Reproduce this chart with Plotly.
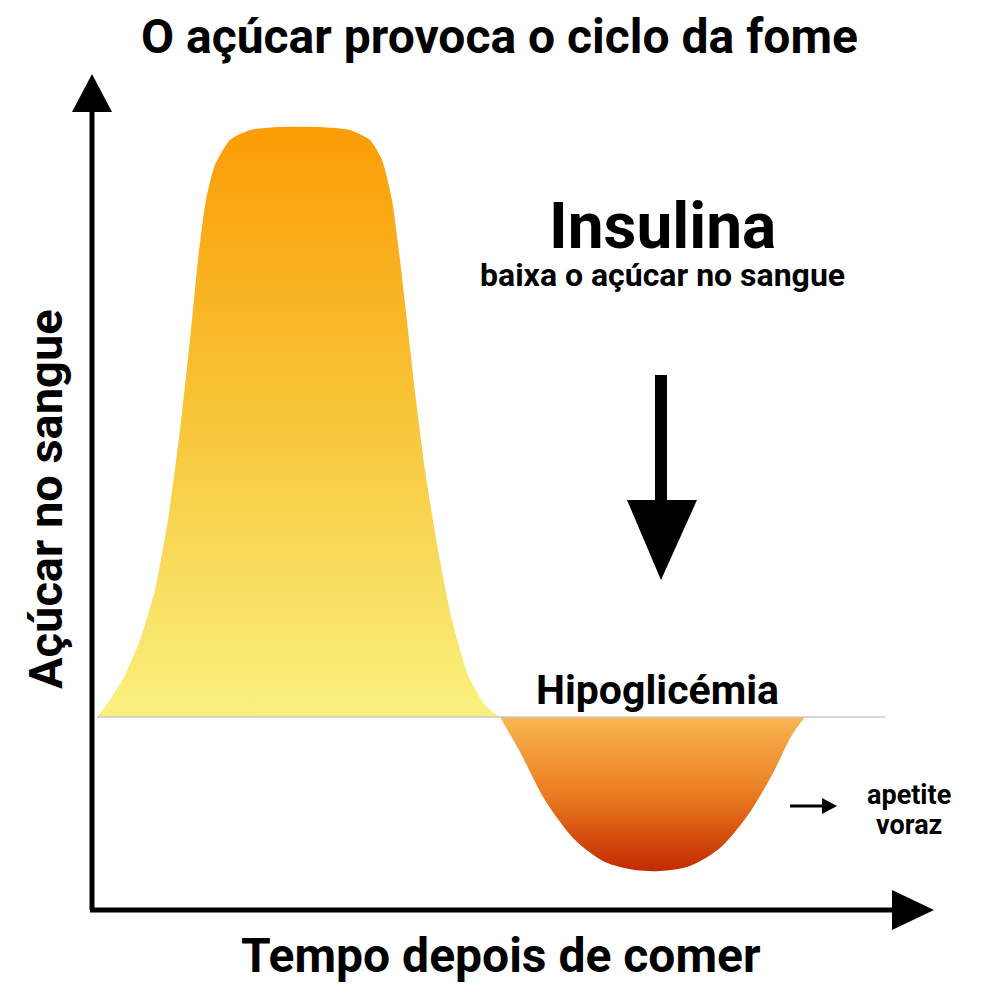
import plotly.graph_objects as go

# bump above baseline (x, y in image-pixel-like units; y measured upward: 1000 - px)
bump_x = [97, 110, 125, 140, 155, 168, 180, 190, 198, 206, 215, 230, 250, 280, 320, 350, 370, 382, 392, 400, 408, 416, 425, 438, 452, 468, 485, 500]
bump_px = [717, 700, 675, 640, 590, 520, 430, 340, 260, 200, 165, 140, 130, 127, 127, 130, 140, 160, 200, 260, 330, 400, 470, 550, 620, 675, 705, 717]
dip_x = [500, 520, 545, 575, 605, 635, 660, 690, 720, 748, 772, 792, 805]
dip_px = [717, 752, 800, 840, 862, 870, 871, 866, 848, 815, 775, 735, 717]
baseline_px = 717

bump_y = [1000 - v for v in bump_px]
dip_y = [1000 - v for v in dip_px]

fig = go.Figure()
fig.add_trace(go.Scatter(x=bump_x, y=bump_y, mode="lines", line=dict(width=0, shape="spline", smoothing=0.6),
                         fill="toself",
                         fillgradient=dict(type="vertical",
                                           colorscale=[[0, "#f9f17f"], [0.5, "#f8c63a"], [1, "#fb9c05"]])))
fig.add_trace(go.Scatter(x=dip_x, y=dip_y, mode="lines", line=dict(width=0, shape="spline", smoothing=0.8),
                         fill="toself",
                         fillgradient=dict(type="vertical",
                                           colorscale=[[0, "#c22a00"], [0.5, "#eb7c20"], [1, "#f8b652"]])))
fig.add_trace(go.Scatter(x=[97, 885], y=[1000 - baseline_px] * 2, mode="lines",
                         line=dict(color="#c8c8c8", width=1.5)))

Y = lambda p: 1000 - p
shapes = [
    dict(type="line", x0=92, x1=92, y0=Y(910), y1=Y(105), line=dict(color="black", width=5)),
    dict(type="line", x0=90, x1=895, y0=Y(910), y1=Y(910), line=dict(color="black", width=5)),
    dict(type="path", path=f"M 72 {Y(112)} L 112 {Y(112)} L 92 {Y(74)} Z", fillcolor="black", line=dict(width=0)),
    dict(type="path", path=f"M 892 {Y(890)} L 892 {Y(930)} L 934 {Y(910)} Z", fillcolor="black", line=dict(width=0)),
    dict(type="rect", x0=655, x1=667, y0=Y(505), y1=Y(375), fillcolor="black", line=dict(width=0)),
    dict(type="path", path=f"M 627 {Y(500)} L 697 {Y(500)} L 661 {Y(580)} Z", fillcolor="black", line=dict(width=0)),
    dict(type="line", x0=790, x1=825, y0=Y(806), y1=Y(806), line=dict(color="black", width=3)),
    dict(type="path", path=f"M 822 {Y(798)} L 822 {Y(814)} L 837 {Y(806)} Z", fillcolor="black", line=dict(width=0)),
]

F = "Roboto"
def txt(x, y, s, size, angle=0):
    return dict(x=x, y=Y(y), text=f"<b>{s}</b>", showarrow=False, textangle=angle,
                font=dict(family=F, size=size, color="black"), xanchor="center", yanchor="middle")

anns = [
    txt(499, 36, "O açúcar provoca o ciclo da fome", 48),
    txt(662, 226, "Insulina", 64),
    txt(662, 275, "baixa o açúcar no sangue", 32),
    txt(657, 690, "Hipoglicémia", 41),
    txt(909, 795, "apetite", 27),
    txt(909, 825, "voraz", 27),
    txt(501, 955, "Tempo depois de comer", 48),
    txt(45, 499, "Açúcar no sangue", 47, -90),
]

fig.update_layout(width=1000, height=1000, margin=dict(l=0, r=0, t=0, b=0),
                  paper_bgcolor="white", plot_bgcolor="white", showlegend=False,
                  xaxis=dict(range=[8, 1008], visible=False, fixedrange=True),
                  yaxis=dict(range=[-8, 992], visible=False, fixedrange=True),
                  shapes=shapes, annotations=anns)
fig.write_html("out.html")
